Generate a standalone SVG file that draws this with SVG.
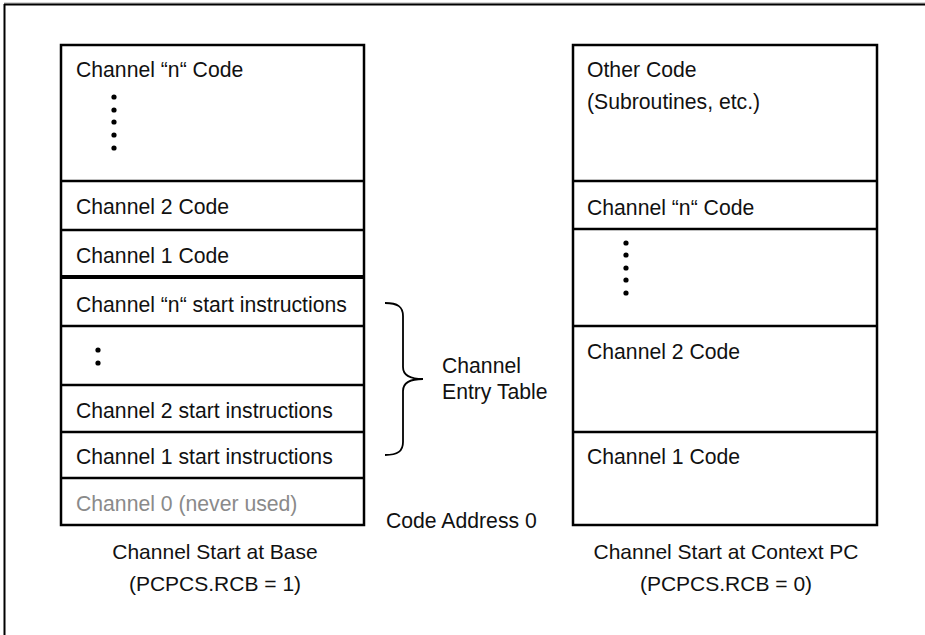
<svg xmlns="http://www.w3.org/2000/svg" width="925" height="635" viewBox="0 0 925 635">
  <style>
    .t { font-family: "Liberation Sans", Arial, sans-serif; font-size: 21.2px; fill: #111; }
    .dim { fill: #8a8a8a; }
    .cap { font-family: "Liberation Sans", Arial, sans-serif; font-size: 21px; fill: #111; text-anchor: middle; }
    .box { fill: #fff; stroke: #000; stroke-width: 2.5; }
    .div { stroke: #000; stroke-width: 2.5; fill: none; }
    .dot { fill: #000; }
  </style>

  <rect width="925" height="635" fill="#fff"/>

  <!-- outer frame (top and left edges visible) -->
  <g id="frame">
    <line x1="4" y1="3" x2="925" y2="3" stroke="#aaa" stroke-width="1"/>
    <line x1="4" y1="4.5" x2="925" y2="4.5" stroke="#000" stroke-width="2"/>
    <line x1="4.5" y1="4" x2="4.5" y2="635" stroke="#000" stroke-width="2"/>
  </g>

  <!-- left memory map: channel start at base -->
  <g id="base-map">
    <rect class="box" x="61" y="45" width="303" height="480"/>
    <line class="div" x1="61" y1="181" x2="364" y2="181"/>
    <line class="div" x1="61" y1="230" x2="364" y2="230"/>
    <line x1="61" y1="277" x2="364" y2="277" stroke="#000" stroke-width="4"/>
    <line class="div" x1="61" y1="326" x2="364" y2="326"/>
    <line class="div" x1="61" y1="385" x2="364" y2="385"/>
    <line class="div" x1="61" y1="432" x2="364" y2="432"/>
    <line class="div" x1="61" y1="478" x2="364" y2="478"/>

    <text class="t" x="76" y="77">Channel “n“ Code</text>
    <circle class="dot" cx="114" cy="97" r="2.6"/>
    <circle class="dot" cx="114" cy="110" r="2.6"/>
    <circle class="dot" cx="114" cy="122" r="2.6"/>
    <circle class="dot" cx="114" cy="135" r="2.6"/>
    <circle class="dot" cx="114" cy="148" r="2.6"/>
    <text class="t" x="76" y="214">Channel 2 Code</text>
    <text class="t" x="76" y="263">Channel 1 Code</text>
    <text class="t" x="76" y="312">Channel “n“ start instructions</text>
    <circle class="dot" cx="98" cy="350" r="2.6"/>
    <circle class="dot" cx="98" cy="363" r="2.6"/>
    <text class="t" x="76" y="418">Channel 2 start instructions</text>
    <text class="t" x="76" y="464">Channel 1 start instructions</text>
    <text class="t dim" x="76" y="511">Channel 0 (never used)</text>

    <text class="cap" x="215" y="559">Channel Start at Base</text>
    <text class="cap" x="215" y="591">(PCPCS.RCB = 1)</text>
  </g>

  <!-- entry table brace and labels -->
  <g id="entry-table">
    <path d="M385,303 C398,303 403,307 403,316 L403,367 C403,375 410,379 423,379 C410,379 403,383 403,391 L403,442 C403,451 398,455 385,455" fill="none" stroke="#000" stroke-width="1.8"/>
    <text class="t" x="442" y="373">Channel</text>
    <text class="t" x="442" y="399">Entry Table</text>
  </g>

  <g id="code-address-0">
    <text class="t" x="386" y="528">Code Address 0</text>
  </g>

  <!-- right memory map: channel start at context PC -->
  <g id="context-map">
    <rect class="box" x="573" y="45" width="304" height="480"/>
    <line class="div" x1="573" y1="181" x2="877" y2="181"/>
    <line class="div" x1="573" y1="229" x2="877" y2="229"/>
    <line class="div" x1="573" y1="326" x2="877" y2="326"/>
    <line class="div" x1="573" y1="432" x2="877" y2="432"/>

    <text class="t" x="587" y="77">Other Code</text>
    <text class="t" x="587" y="109">(Subroutines, etc.)</text>
    <text class="t" x="587" y="215">Channel “n“ Code</text>
    <circle class="dot" cx="626" cy="243" r="2.6"/>
    <circle class="dot" cx="626" cy="255" r="2.6"/>
    <circle class="dot" cx="626" cy="268" r="2.6"/>
    <circle class="dot" cx="626" cy="280" r="2.6"/>
    <circle class="dot" cx="626" cy="293" r="2.6"/>
    <text class="t" x="587" y="359">Channel 2 Code</text>
    <text class="t" x="587" y="464">Channel 1 Code</text>

    <text class="cap" x="726" y="559">Channel Start at Context PC</text>
    <text class="cap" x="726" y="591">(PCPCS.RCB = 0)</text>
  </g>
</svg>
